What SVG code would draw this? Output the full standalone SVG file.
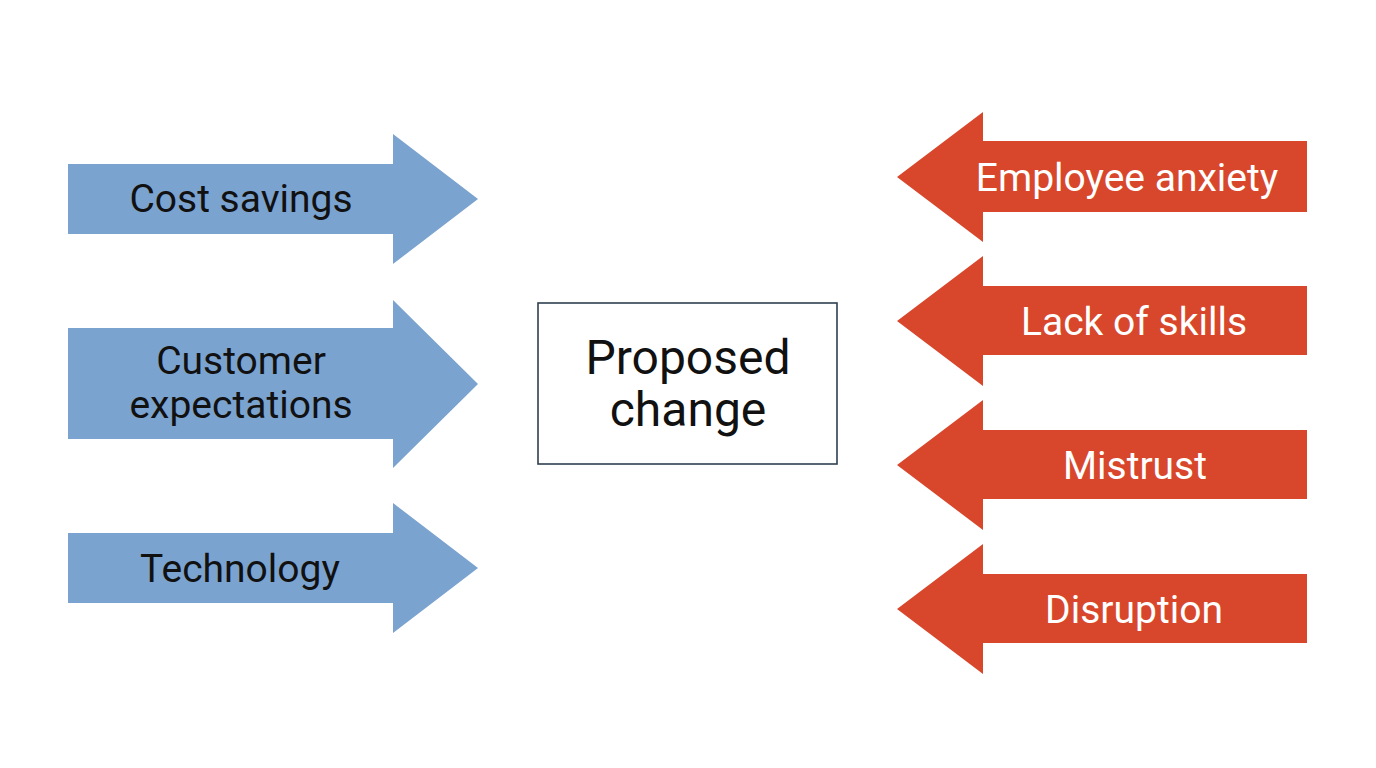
<svg xmlns="http://www.w3.org/2000/svg" width="1376" height="768" viewBox="0 0 1376 768">
<style>
.drv{fill:#7ba3d0}
.res{fill:#d8472b}
.lbl{font-family:Roboto,"Liberation Sans",sans-serif;font-size:39px;text-anchor:middle}
.dk{fill:#111}
.wt{fill:#fff}
.box{fill:#fff;stroke:#2f4050;stroke-width:1.6}
.ctr{font-family:Roboto,"Liberation Sans",sans-serif;font-size:48px;text-anchor:middle;fill:#111}
</style>
<rect width="1376" height="768" fill="#fff"/>
<g id="connectors"></g>
<g id="cost-savings">
<polygon class="drv" points="68,164 393,164 393,134 478,199 393,264 393,234 68,234"/>
<text class="lbl dk" x="241" y="212">Cost savings</text>
</g>
<g id="customer-expectations">
<polygon class="drv" points="68,328 393,328 393,300 478,384 393,468 393,439 68,439"/>
<text class="lbl dk" x="241" y="374">Customer</text>
<text class="lbl dk" x="241" y="418">expectations</text>
</g>
<g id="technology">
<polygon class="drv" points="68,533 393,533 393,503 478,568 393,633 393,603 68,603"/>
<text class="lbl dk" x="240" y="582">Technology</text>
</g>
<g id="proposed-change">
<rect class="box" x="538" y="303" width="299" height="161"/>
<text class="ctr" x="688" y="374">Proposed</text>
<text class="ctr" x="688" y="426">change</text>
</g>
<g id="employee-anxiety">
<polygon class="res" points="1307,141 983,141 983,112 897,177 983,242 983,212 1307,212"/>
<text class="lbl wt" x="1127" y="191">Employee anxiety</text>
</g>
<g id="lack-of-skills">
<polygon class="res" points="1307,286 983,286 983,256 897,321 983,386 983,355 1307,355"/>
<text class="lbl wt" x="1134" y="335">Lack of skills</text>
</g>
<g id="mistrust">
<polygon class="res" points="1307,430 983,430 983,400 897,465 983,530 983,499 1307,499"/>
<text class="lbl wt" x="1135" y="479">Mistrust</text>
</g>
<g id="disruption">
<polygon class="res" points="1307,574 983,574 983,544 897,609 983,674 983,643 1307,643"/>
<text class="lbl wt" x="1134" y="623">Disruption</text>
</g>
</svg>
